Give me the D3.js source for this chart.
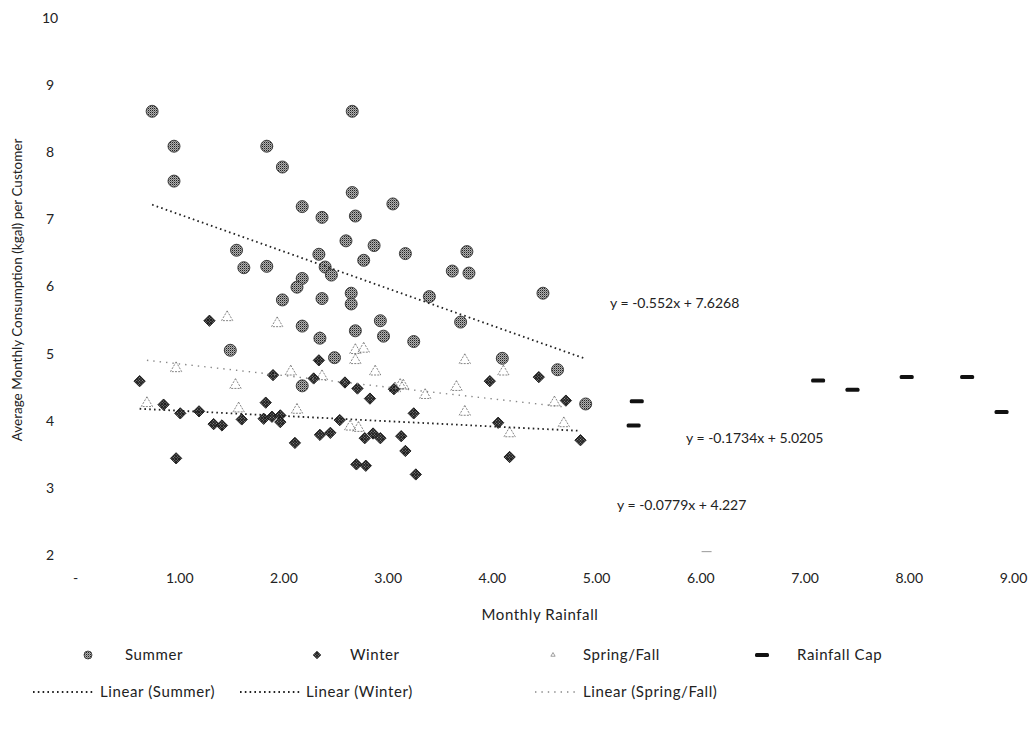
<!DOCTYPE html>
<html>
<head>
<meta charset="utf-8">
<script src="https://cdn.jsdelivr.net/npm/d3@7"></script>
<style>
  body { margin: 0; background: #fff; }
  svg text { font-family: Lato, "Open Sans", sans-serif; fill: #222; }
</style>
</head>
<body>
<svg id="chart" width="1034" height="729"></svg>
<script>
// rainfall (x), consumption kgal (y)
const summer = [
  [0.74, 8.61], [0.95, 8.09], [0.95, 7.57], [2.66, 8.61], [1.84, 8.09], [1.99, 7.78],
  [2.66, 7.40], [3.05, 7.23], [2.18, 7.19], [2.37, 7.03], [2.69, 7.05], [2.60, 6.68],
  [2.87, 6.61], [3.17, 6.49], [2.77, 6.39], [2.34, 6.48], [2.40, 6.29], [2.46, 6.17],
  [1.55, 6.54], [1.62, 6.28], [1.84, 6.30], [2.18, 6.12], [2.13, 5.99], [1.99, 5.80],
  [2.37, 5.82], [2.65, 5.90], [2.65, 5.74], [3.40, 5.85], [3.76, 6.52], [3.62, 6.23],
  [3.78, 6.20], [4.49, 5.90], [3.70, 5.47], [3.25, 5.18], [4.10, 4.93], [4.63, 4.76],
  [4.90, 4.25], [2.93, 5.49], [2.18, 5.41], [2.69, 5.34], [2.96, 5.26], [2.35, 5.23],
  [1.49, 5.05], [2.49, 4.94], [2.18, 4.52]
];
const winter = [
  [1.29, 5.49], [0.62, 4.59], [1.90, 4.68], [2.34, 4.90], [2.29, 4.63], [2.59, 4.57],
  [2.71, 4.48], [2.83, 4.33], [3.06, 4.47], [1.83, 4.27], [0.85, 4.24], [1.01, 4.11],
  [1.19, 4.14], [1.33, 3.95], [1.41, 3.93], [1.60, 4.02], [1.81, 4.03], [1.89, 4.06],
  [1.97, 4.08], [1.97, 3.98], [2.54, 4.01], [2.11, 3.67], [2.35, 3.79], [2.45, 3.82],
  [2.78, 3.74], [2.86, 3.81], [2.93, 3.74], [3.13, 3.77], [3.17, 3.55], [0.97, 3.44],
  [2.70, 3.35], [2.79, 3.33], [3.27, 3.20], [3.25, 4.11], [3.98, 4.59], [4.45, 4.65],
  [4.71, 4.30], [4.06, 3.97], [4.85, 3.71], [4.17, 3.46]
];
const springFall = [
  [1.46, 5.54], [1.94, 5.45], [2.35, 5.23], [2.69, 5.05], [2.77, 5.07], [2.69, 4.90],
  [2.88, 4.73], [0.97, 4.78], [1.54, 4.53], [2.07, 4.73], [2.37, 4.66], [3.07, 4.48],
  [3.15, 4.52], [0.69, 4.26], [1.57, 4.18], [2.13, 4.16], [2.64, 3.91], [2.72, 3.89],
  [3.36, 4.38], [3.74, 4.90], [4.11, 4.73], [3.66, 4.50], [4.60, 4.27], [3.74, 4.13],
  [4.69, 3.96], [4.17, 3.81], [3.12, 4.53]
];
const rainfallCap = [
  [5.39, 4.29], [5.36, 3.93], [7.13, 4.60], [7.46, 4.46], [7.98, 4.65], [8.56, 4.65],
  [8.89, 4.13]
];
// a faint stray cap mark near the bottom of the plot
const rainfallCapFaint = [[6.06, 2.05]];
// trend lines: name, slope, intercept, points used for extent
const trends = [
  { name: "Summer", slope: -0.552, intercept: 7.6268, data: summer },
  { name: "Winter", slope: -0.0779, intercept: 4.227, data: winter },
  { name: "Spring/Fall", slope: -0.1734, intercept: 5.0205, data: springFall }
];
const equationLabels = ["y = -0.552x + 7.6268", "y = -0.1734x + 5.0205", "y = -0.0779x + 4.227"];
const xTicks = [0, 1, 2, 3, 4, 5, 6, 7, 8, 9];
const yTicks = [2, 3, 4, 5, 6, 7, 8, 9, 10];

const svg = d3.select("#chart");

const x = d3.scaleLinear().domain([0, 9]).range([75, 1013]);
const y = d3.scaleLinear().domain([2, 10]).range([555, 18]);

// dithered fills to mimic the scanned look
const defs = svg.append("defs");
const lightDots = defs.append("pattern")
  .attr("id", "summerFill").attr("width", 2).attr("height", 2)
  .attr("patternUnits", "userSpaceOnUse");
lightDots.append("rect").attr("width", 2).attr("height", 2).attr("fill", "#b0b0b0");
lightDots.append("rect").attr("width", 1).attr("height", 1).attr("fill", "#222");
lightDots.append("rect").attr("x", 1).attr("y", 1).attr("width", 1).attr("height", 1).attr("fill", "#777");

const darkDots = defs.append("pattern")
  .attr("id", "winterFill").attr("width", 2).attr("height", 2)
  .attr("patternUnits", "userSpaceOnUse");
darkDots.append("rect").attr("width", 2).attr("height", 2).attr("fill", "#1a1a1a");
darkDots.append("rect").attr("x", 1).attr("y", 1).attr("width", 1).attr("height", 1).attr("fill", "#999");

// axes (labels only, no lines)
const xAxis = svg.append("g")
  .attr("transform", "translate(0,570)")
  .call(d3.axisBottom(x).tickValues(xTicks).tickSize(0)
    .tickFormat(d => d === 0 ? "-" : d3.format(".2f")(d)));
xAxis.select(".domain").remove();
xAxis.selectAll("text").attr("font-size", 14).attr("fill", "#222")
  .style("font-family", "Lato, sans-serif");

const yAxis = svg.append("g")
  .attr("transform", "translate(50,0)")
  .call(d3.axisLeft(y).tickValues(yTicks).tickSize(0).tickFormat(d3.format("d")));
yAxis.select(".domain").remove();
yAxis.selectAll("text").attr("font-size", 14).attr("fill", "#222")
  .attr("text-anchor", "middle").attr("x", 0)
  .style("font-family", "Lato, sans-serif");

svg.append("text")
  .attr("x", 540).attr("y", 620)
  .attr("text-anchor", "middle").attr("font-size", 15)
  .attr("letter-spacing", 0.6)
  .text("Monthly Rainfall");

svg.append("text")
  .attr("transform", "translate(22,290) rotate(-90)")
  .attr("text-anchor", "middle").attr("font-size", 13.5)
  .text("Average Monthly Consumption (kgal) per Customer");

// trend lines
const trendStyle = {
  "Summer": { stroke: "#222", dash: "1.6,3.2", width: 1.8 },
  "Winter": { stroke: "#222", dash: "1.6,3.2", width: 1.8 },
  "Spring/Fall": { stroke: "#888", dash: "1.4,5", width: 1.4 }
};

// markers
const triangle = d3.symbol().type(d3.symbolTriangle).size(55);
const diamond = d3.symbol().type(d3.symbolSquare).size(64);

svg.append("g").selectAll("path")
  .data(springFall).join("path")
  .attr("d", triangle)
  .attr("transform", d => `translate(${x(d[0])},${y(d[1])})`)
  .attr("fill", "none").attr("stroke", "#666")
  .attr("stroke-width", 0.8).attr("stroke-dasharray", "2,1.2");

svg.append("g").selectAll("circle")
  .data(summer).join("circle")
  .attr("cx", d => x(d[0])).attr("cy", d => y(d[1])).attr("r", 6)
  .attr("fill", "url(#summerFill)").attr("stroke", "#333").attr("stroke-width", 0.9);

svg.append("g").selectAll("path")
  .data(winter).join("path")
  .attr("d", diamond)
  .attr("transform", d => `translate(${x(d[0])},${y(d[1])}) rotate(45)`)
  .attr("fill", "url(#winterFill)").attr("stroke", "#111").attr("stroke-width", 0.8);

svg.append("g").selectAll("rect")
  .data(rainfallCap).join("rect")
  .attr("x", d => x(d[0]) - 7).attr("y", d => y(d[1]) - 2)
  .attr("width", 14).attr("height", 4).attr("rx", 1.5)
  .attr("fill", "#111");

svg.append("g").selectAll("rect")
  .data(rainfallCapFaint).join("rect")
  .attr("x", d => x(d[0]) - 5).attr("y", d => y(d[1]) - 0.5)
  .attr("width", 10).attr("height", 1)
  .attr("fill", "#999");

svg.append("g").selectAll("line")
  .data(trends).join("line")
  .attr("x1", t => x(d3.min(t.data, d => d[0])))
  .attr("x2", t => x(d3.max(t.data, d => d[0])))
  .attr("y1", t => y(t.slope * d3.min(t.data, d => d[0]) + t.intercept))
  .attr("y2", t => y(t.slope * d3.max(t.data, d => d[0]) + t.intercept))
  .attr("stroke", t => trendStyle[t.name].stroke)
  .attr("stroke-width", t => trendStyle[t.name].width)
  .attr("stroke-dasharray", t => trendStyle[t.name].dash);

// equation labels
const eqPos = [[610, 308], [686, 443], [617, 510]];
svg.append("g").selectAll("text")
  .data(equationLabels).join("text")
  .attr("x", (d, i) => eqPos[i][0]).attr("y", (d, i) => eqPos[i][1])
  .attr("font-size", 14)
  .text(d => d);

// legend
const legend = svg.append("g");
const row1 = 655, row2 = 692;

legend.append("circle").attr("cx", 88).attr("cy", row1).attr("r", 4)
  .attr("fill", "url(#summerFill)").attr("stroke", "#333").attr("stroke-width", 0.8);
legend.append("path").attr("d", d3.symbol().type(d3.symbolSquare).size(30))
  .attr("transform", `translate(317,${row1}) rotate(45)`)
  .attr("fill", "url(#winterFill)").attr("stroke", "#111").attr("stroke-width", 0.6);
legend.append("path").attr("d", d3.symbol().type(d3.symbolTriangle).size(8))
  .attr("transform", `translate(553,${row1})`)
  .attr("fill", "none").attr("stroke", "#777").attr("stroke-width", 0.7);
legend.append("rect").attr("x", 755).attr("y", row1 - 2).attr("width", 14).attr("height", 4)
  .attr("rx", 1.5).attr("fill", "#111");

const legendText = [
  ["Summer", 125, row1], ["Winter", 350, row1], ["Spring/Fall", 583, row1], ["Rainfall Cap", 797, row1],
  ["Linear (Summer)", 100, row2], ["Linear (Winter)", 306, row2], ["Linear (Spring/Fall)", 583, row2]
];
legend.selectAll("text")
  .data(legendText).join("text")
  .attr("x", d => d[1]).attr("y", d => d[2] + 5)
  .attr("font-size", 15).attr("letter-spacing", 0.6)
  .text(d => d[0]);

const legendLines = [["Summer", 33, 95], ["Winter", 240, 300], ["Spring/Fall", 535, 578]];
legend.selectAll("line")
  .data(legendLines).join("line")
  .attr("x1", d => d[1]).attr("x2", d => d[2])
  .attr("y1", row2).attr("y2", row2)
  .attr("stroke", d => trendStyle[d[0]].stroke)
  .attr("stroke-width", d => trendStyle[d[0]].width)
  .attr("stroke-dasharray", d => trendStyle[d[0]].dash);
</script>
</body>
</html>
